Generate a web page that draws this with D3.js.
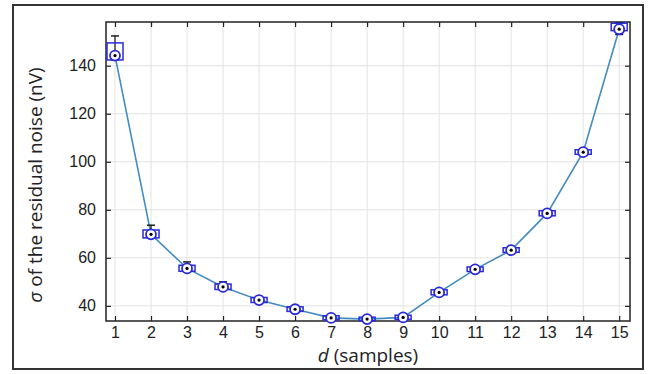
<!DOCTYPE html>
<html>
<head>
<meta charset="utf-8">
<script src="https://cdn.jsdelivr.net/npm/d3@7"></script>
<style>
  body { margin: 0; background: #fff; }
  .tick text { font-family: "Liberation Sans", Arial, sans-serif; font-size: 16px; fill: #222; }
  .label { font-family: "Open Sans", "Noto Sans", sans-serif; font-size: 19px; fill: #222; }
</style>
</head>
<body>
<script>
// samples d and residual noise sigma (nV)
var dValues = [1, 2, 3, 4, 5, 6, 7, 8, 9, 10, 11, 12, 13, 14, 15];
var sigma   = [144.2, 69.8, 55.6, 47.9, 42.4, 38.6, 35.0, 34.5, 35.2, 45.6, 55.2, 63.2, 78.5, 104.0, 155.2];
var boxLow  = [142.4, 68.3, 54.4, 46.8, 41.4, 37.7, 34.2, 33.8, 34.4, 44.6, 54.3, 62.3, 77.5, 103.1, 154.6];
var boxHigh = [149.5, 71.6, 56.9, 49.1, 43.5, 39.6, 35.9, 35.3, 36.1, 46.7, 56.2, 64.2, 79.6, 105.0, 157.7];
var whiskLow  = [142.4, 68.3, 54.4, 46.8, 41.4, 37.7, 34.2, 33.8, 34.4, 44.6, 54.3, 62.3, 77.5, 102.6, 153.0];
var whiskHigh = [152.4, 73.6, 58.3, 50.0, 43.9, 39.9, 36.1, 35.4, 36.2, 46.8, 56.4, 64.4, 79.9, 105.3, 157.9];
var yTicks = [40, 60, 80, 100, 120, 140];

var width = 652, height = 374;
var margin = {left: 106, right: 22, top: 22, bottom: 53};
var w = width - margin.left - margin.right;
var h = height - margin.top - margin.bottom;

var svg = d3.select("body").append("svg")
    .attr("width", width)
    .attr("height", height);

// outer frame
svg.append("rect")
    .attr("x", 13).attr("y", 5)
    .attr("width", 630).attr("height", 364)
    .attr("fill", "none")
    .attr("stroke", "#333")
    .attr("stroke-width", 2);

var g = svg.append("g")
    .attr("transform", "translate(" + margin.left + "," + margin.top + ")");

var xScale = d3.scaleLinear().domain([0.75, 15.3]).range([0, w]);
var yScale = d3.scaleLinear().domain([33.7, 158.2]).range([h, 0]);

// grid
g.append("g").selectAll("line").data(dValues).enter().append("line")
    .attr("x1", function(d){ return xScale(d); })
    .attr("x2", function(d){ return xScale(d); })
    .attr("y1", 0).attr("y2", h)
    .attr("stroke", "#e3e3e3").attr("stroke-width", 1);
g.append("g").selectAll("line").data(yTicks).enter().append("line")
    .attr("y1", function(d){ return yScale(d); })
    .attr("y2", function(d){ return yScale(d); })
    .attr("x1", 0).attr("x2", w)
    .attr("stroke", "#e3e3e3").attr("stroke-width", 1);

// axes, ticks pointing inward on all sides
function styleAxis(sel) {
    sel.select(".domain").remove();
    sel.selectAll(".tick line").attr("stroke", "#222").attr("stroke-width", 1.2);
}
g.append("g")
    .attr("transform", "translate(0," + h + ")")
    .call(d3.axisBottom(xScale).tickValues(dValues).tickFormat(d3.format("d")).tickSizeInner(-5).tickSizeOuter(0).tickPadding(6))
    .call(styleAxis);
g.append("g")
    .call(d3.axisTop(xScale).tickValues(dValues).tickFormat("").tickSizeInner(-5).tickSizeOuter(0))
    .call(styleAxis);
g.append("g")
    .call(d3.axisLeft(yScale).tickValues(yTicks).tickSizeInner(-5).tickSizeOuter(0).tickPadding(10))
    .call(styleAxis);
g.append("g")
    .attr("transform", "translate(" + w + ",0)")
    .call(d3.axisRight(yScale).tickValues(yTicks).tickFormat("").tickSizeInner(-5).tickSizeOuter(0))
    .call(styleAxis);

g.append("rect")
    .attr("width", w).attr("height", h)
    .attr("fill", "none").attr("stroke", "#222").attr("stroke-width", 1.5);

var pts = dValues.map(function(d, i){
    return {d: d, s: sigma[i], bl: boxLow[i], bh: boxHigh[i], wl: whiskLow[i], wh: whiskHigh[i]};
});

// connecting line
var line = d3.line()
    .x(function(p){ return xScale(p.d); })
    .y(function(p){ return yScale(p.s); });
g.append("path")
    .datum(pts)
    .attr("d", line)
    .attr("fill", "none")
    .attr("stroke", "#448cc0")
    .attr("stroke-width", 1.6);

var marks = g.append("g").selectAll("g").data(pts).enter().append("g");

// whiskers
marks.append("line")
    .attr("x1", function(p){ return xScale(p.d); })
    .attr("x2", function(p){ return xScale(p.d); })
    .attr("y1", function(p){ return yScale(p.wh); })
    .attr("y2", function(p){ return yScale(p.wl); })
    .attr("stroke", "#111").attr("stroke-width", 1.2);
marks.append("line")
    .attr("x1", function(p){ return xScale(p.d) - 4; })
    .attr("x2", function(p){ return xScale(p.d) + 4; })
    .attr("y1", function(p){ return yScale(p.wh); })
    .attr("y2", function(p){ return yScale(p.wh); })
    .attr("stroke", "#111").attr("stroke-width", 1.4);
marks.append("line")
    .attr("x1", function(p){ return xScale(p.d) - 4; })
    .attr("x2", function(p){ return xScale(p.d) + 4; })
    .attr("y1", function(p){ return yScale(p.wl); })
    .attr("y2", function(p){ return yScale(p.wl); })
    .attr("stroke", "#111").attr("stroke-width", 1.4);

// boxes
marks.append("rect")
    .attr("x", function(p){ return xScale(p.d) - 8; })
    .attr("width", 16)
    .attr("y", function(p){ return yScale(p.bh); })
    .attr("height", function(p){ return yScale(p.bl) - yScale(p.bh); })
    .attr("fill", "none")
    .attr("stroke", "#2a2ad8").attr("stroke-width", 1.5);

// median circle with dot
marks.append("circle")
    .attr("cx", function(p){ return xScale(p.d); })
    .attr("cy", function(p){ return yScale(p.s); })
    .attr("r", 5)
    .attr("fill", "#fff")
    .attr("stroke", "#2a2ad8").attr("stroke-width", 1.8);
marks.append("circle")
    .attr("cx", function(p){ return xScale(p.d); })
    .attr("cy", function(p){ return yScale(p.s); })
    .attr("r", 1.6)
    .attr("fill", "#000");

// axis labels
var xl = svg.append("text")
    .attr("class", "label")
    .attr("x", margin.left + w / 2 - 0)
    .attr("y", 362)
    .attr("text-anchor", "middle");
xl.append("tspan").attr("font-style", "italic").text("d");
xl.append("tspan").text(" (samples)");

var yl = svg.append("text")
    .attr("class", "label")
    .attr("text-anchor", "middle")
    .attr("transform", "translate(42," + 185 + ") rotate(-90)");
yl.append("tspan").attr("font-style", "italic").text("σ");
yl.append("tspan").text(" of the residual noise (nV)");
</script>
</body>
</html>
